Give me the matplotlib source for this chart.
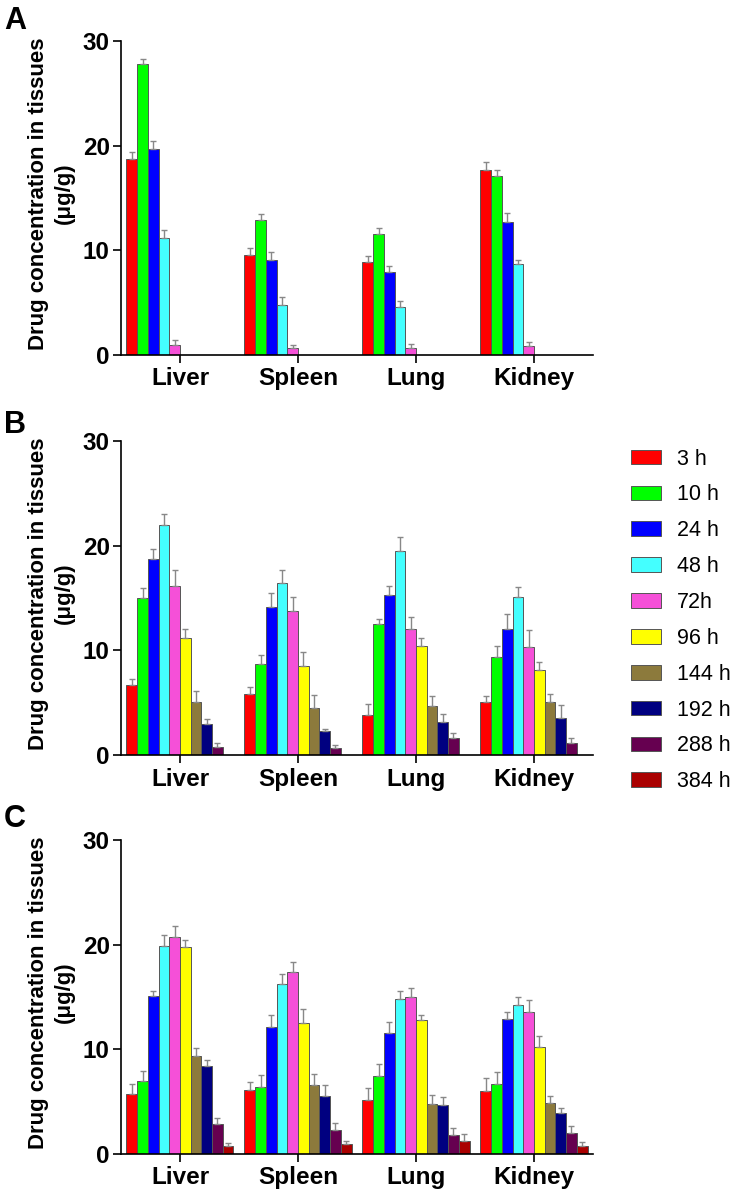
import numpy as np
import matplotlib
matplotlib.use("Agg")
import matplotlib.pyplot as plt
from matplotlib.patches import Patch

plt.rcParams['font.family'] = ['Liberation Sans', 'DejaVu Sans']

organs = ["Liver", "Spleen", "Lung", "Kidney"]
times = ["3 h", "10 h", "24 h", "48 h", "72h", "96 h", "144 h", "192 h", "288 h", "384 h"]
colors = ["#FF0000", "#00FF00", "#0000FF", "#44FFFF", "#F550D8",
          "#FFFF00", "#8C7A3C", "#000080", "#660050", "#AA0000"]

# panel A: 3 h .. 72h
a_mean = [[18.7, 9.6, 8.9, 17.7],
          [27.8, 12.9, 11.6, 17.1],
          [19.7, 9.1, 7.9, 12.7],
          [11.2, 4.8, 4.55, 8.65],
          [1.0, 0.67, 0.67, 0.86]]
a_err = [[0.65, 0.6, 0.6, 0.7],
         [0.5, 0.6, 0.5, 0.6],
         [0.7, 0.7, 0.6, 0.9],
         [0.7, 0.7, 0.6, 0.42],
         [0.4, 0.25, 0.35, 0.35]]

# panel B: 3 h .. 288 h
b_mean = [[6.72, 5.83, 3.79, 5.06],
          [14.97, 8.66, 12.5, 9.36],
          [18.76, 14.17, 15.25, 12.0],
          [21.94, 16.4, 19.5, 15.06],
          [16.15, 13.73, 12.0, 10.29],
          [11.15, 8.54, 10.38, 8.09],
          [5.06, 4.52, 4.68, 5.03],
          [2.96, 2.26, 3.12, 3.5],
          [0.76, 0.67, 1.62, 1.18]]
b_err = [[0.54, 0.67, 1.1, 0.54],
         [0.95, 0.93, 0.5, 1.02],
         [0.95, 1.28, 0.9, 1.5],
         [1.08, 1.27, 1.36, 0.95],
         [1.5, 1.33, 1.15, 1.65],
         [0.86, 1.33, 0.77, 0.76],
         [1.02, 1.18, 0.96, 0.77],
         [0.48, 0.25, 0.77, 1.25],
         [0.35, 0.29, 0.45, 0.48]]

# panel C: 3 h .. 384 h
c_mean = [[5.72, 6.1, 5.18, 5.97],
          [6.96, 6.39, 7.44, 6.67],
          [15.06, 12.14, 11.53, 12.93],
          [19.89, 16.2, 14.78, 14.27],
          [20.75, 17.38, 15.03, 13.57],
          [19.73, 12.55, 12.77, 10.26],
          [9.37, 6.55, 4.8, 4.83],
          [8.39, 5.56, 4.67, 3.9],
          [2.89, 2.29, 1.81, 2.0],
          [0.73, 0.95, 1.21, 0.76]]
c_err = [[0.92, 0.8, 1.08, 1.33],
         [0.98, 1.17, 1.11, 1.21],
         [0.51, 1.17, 1.05, 0.64],
         [1.05, 0.96, 0.82, 0.73],
         [1.08, 0.99, 0.83, 1.17],
         [0.73, 1.3, 0.48, 1.02],
         [0.8, 1.05, 0.82, 0.67],
         [0.57, 1.02, 0.76, 0.45],
         [0.51, 0.63, 0.64, 0.7],
         [0.29, 0.25, 0.66, 0.34]]

fig = plt.figure(figsize=(7.35, 11.92), dpi=100)

panels = [("A", a_mean, a_err, 0.7022, 29),
          ("B", b_mean, b_err, 0.3666, 433),
          ("C", c_mean, c_err, 0.0319, 827)]

x = np.arange(len(organs))
w = 0.0907

for letter, means, errs, bottom, ly in panels:
    ax = fig.add_axes([0.1646, bottom, 0.6422, 0.2634])
    for i, (m, e) in enumerate(zip(means, errs)):
        ax.bar(x + (i - 4.5) * w, m, width=w, color=colors[i],
               edgecolor="#555555", linewidth=0.7,
               yerr=[np.zeros(len(e)), e], ecolor="#888888",
               error_kw=dict(elinewidth=1.0, capsize=2.5, capthick=1.0), zorder=2)
    ax.set_xlim(-0.5, 3.5)
    ax.set_ylim(0, 30)
    ax.set_yticks([0, 10, 20, 30])
    ax.set_xticks(x)
    ax.set_xticklabels(organs, fontsize=17.5, fontweight="bold")
    for lab in ax.get_yticklabels():
        lab.set_fontsize(17.5)
        lab.set_fontweight("bold")
    ax.tick_params(axis="both", direction="out", length=6, width=1.2, pad=2)
    ax.tick_params(axis="x", pad=3)
    for s in ["top", "right"]:
        ax.spines[s].set_visible(False)
    for s in ["left", "bottom"]:
        ax.spines[s].set_linewidth(1.2)
    ax.set_ylabel("Drug concentration in tissues\n(μg/g)", fontsize=16,
                  fontweight="bold", linespacing=1.3)
    ax.yaxis.set_label_coords(-0.097, 0.515)
    fig.text(4 / 735, 1 - ly / 1192, letter, fontsize=22, fontweight="bold",
             va="baseline", ha="left")

handles = [Patch(facecolor=c, edgecolor="#555555", linewidth=0.7) for c in colors]
fig.legend(handles, times, loc="upper left", bbox_to_anchor=(622 / 735, 1 - 440 / 1192),
           frameon=False, fontsize=15.5, handlelength=1.4, handleheight=0.67,
           handletextpad=0.75, labelspacing=0.69, borderaxespad=0)

fig.savefig("out.png", dpi=100)
